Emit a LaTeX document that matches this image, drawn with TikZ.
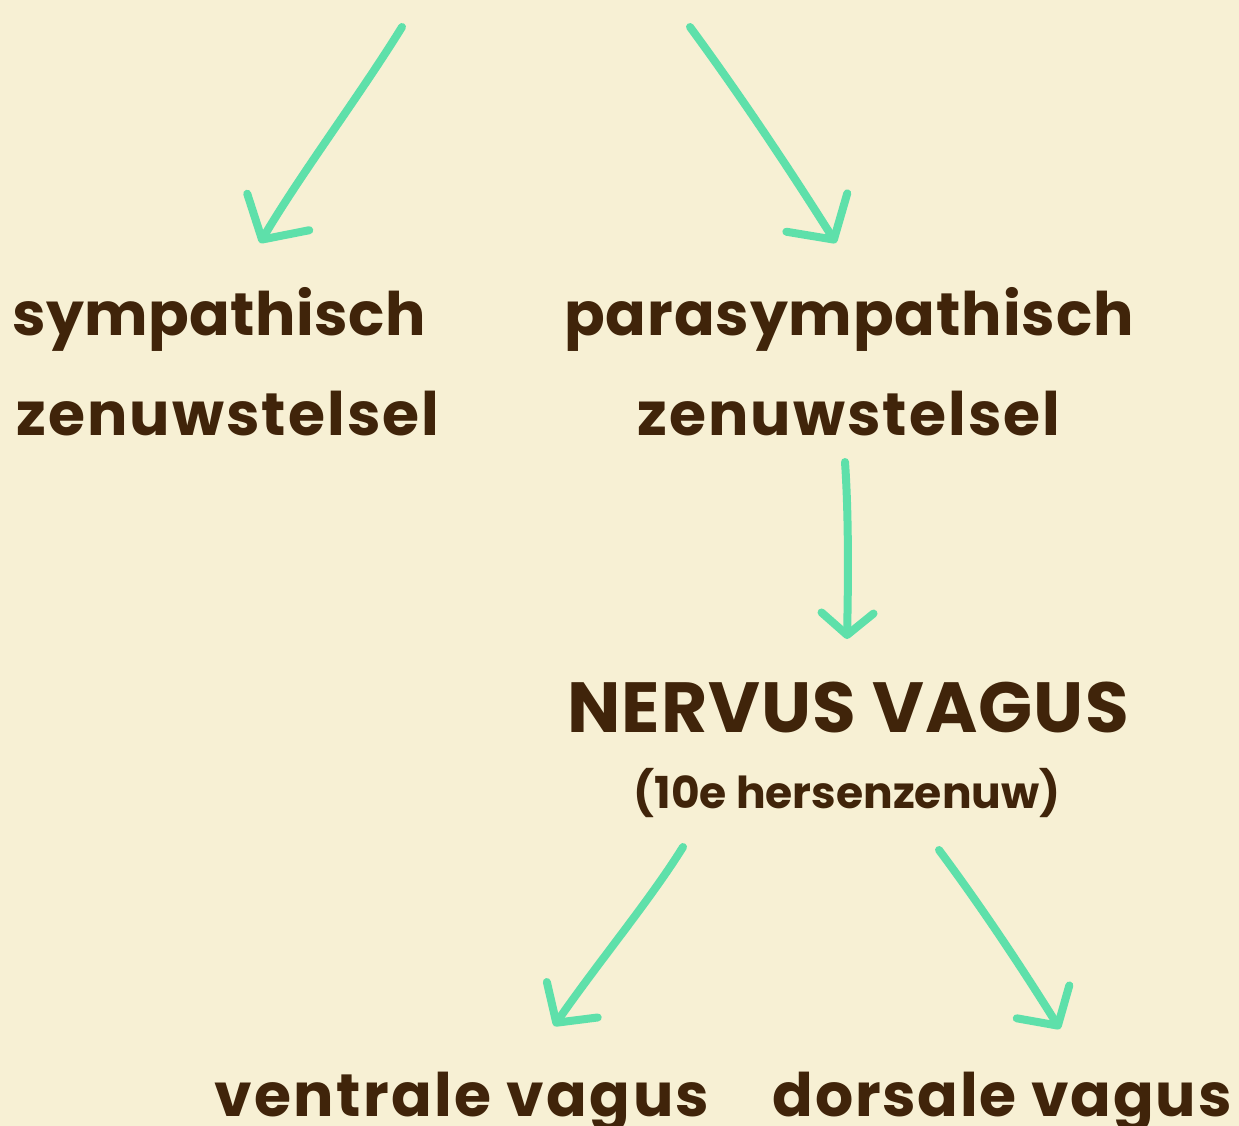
\documentclass[tikz,border=0pt]{standalone}
\usepackage{fontspec}
\setmainfont{Poppins}
\usetikzlibrary{arrows.meta}
\definecolor{bgcol}{HTML}{F7F0D4}
\definecolor{txtcol}{HTML}{40240A}
\definecolor{arrcol}{HTML}{5EE0AA}
\tikzset{
  lbl/.style={anchor=base, inner sep=0pt, text=txtcol, font=\bfseries\fontsize{60}{72}\selectfont},
  biglbl/.style={anchor=base, inner sep=0pt, text=txtcol, font=\bfseries\fontsize{71}{80}\selectfont\addfontfeature{LetterSpace=1.5}},
  sublbl/.style={anchor=base, inner sep=0pt, text=txtcol, font=\bfseries\fontsize{44}{52}\selectfont},
  sketch/.style 2 args={draw=arrcol, line width=8pt, line cap=round, line join=round,
    -{Straight Barb[length=#1, width=#2, line cap=round, round]}},
}
\begin{document}
\begin{tikzpicture}[x=1pt,y=-1pt]
\fill[bgcol] (0,0) rectangle (1239,1126);
\useasboundingbox (0,0) rectangle (1239,1126);
% labels
\node[lbl] (sym1) at (219,335) {\addfontfeature{LetterSpace=0.7}sympathisch};
\node[lbl] (sym2) at (228,435) {\addfontfeature{LetterSpace=3.5}zenuwstelsel};
\node[lbl] (par1) at (849,335) {\addfontfeature{LetterSpace=1.5}parasympathisch};
\node[lbl] (par2) at (849,435) {\addfontfeature{LetterSpace=3.5}zenuwstelsel};
\node[biglbl] (nv) at (848,732) {NERVUS VAGUS};
\node[sublbl] (hz) at (847,808) {(10e hersenzenuw)};
\node[lbl] (ven) at (462,1116) {\addfontfeature{LetterSpace=4}ventrale vagus};
\node[lbl] (dor) at (1002,1116) {\addfontfeature{LetterSpace=3}dorsale vagus};
% arrow end points
\coordinate (s1) at (402,27);
\coordinate (t1) at (260,243);
\coordinate (s2) at (690,27);
\coordinate (t2) at (836,243);
\coordinate (s3) at (845,462);
\coordinate (t3) at (847,639);
\coordinate (s4) at (683,847);
\coordinate (t4) at (554,1026);
\coordinate (s5) at (939,850);
\coordinate (t5) at (1060,1029);
% arrows
\draw[sketch={32pt}{72pt}] (s1) .. controls (360,95) and (300,175) .. (t1);
\draw[sketch={32pt}{72pt}] (s2) .. controls (740,95) and (790,170) .. (t2);
\draw[sketch={22pt}{52pt}] (s3) .. controls (849,520) and (848,590) .. (t3);
\draw[sketch={28pt}{62pt}] (s4) .. controls (650,900) and (600,960) .. (t4);
\draw[sketch={28pt}{62pt}] (s5) .. controls (980,905) and (1020,965) .. (t5);
\end{tikzpicture}
\end{document}
